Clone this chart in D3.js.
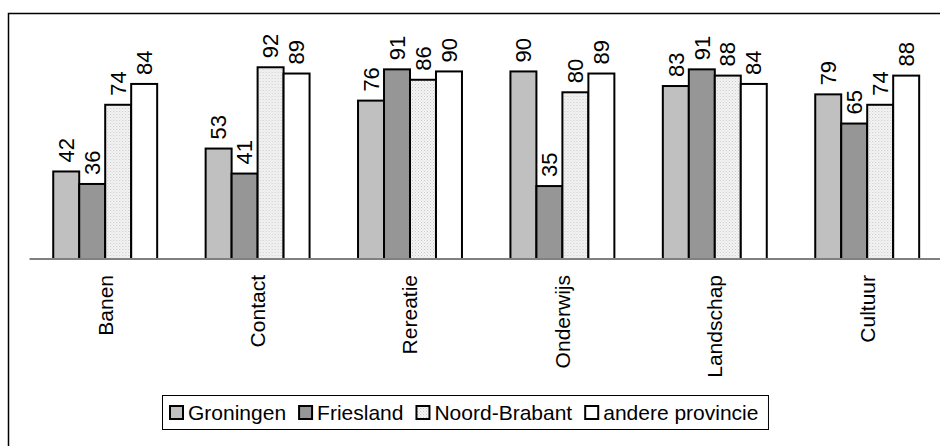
<!DOCTYPE html>
<html lang="nl">
<head>
<meta charset="UTF-8">
<title>Grouped bars</title>
<script src="https://d3js.org/d3.v7.min.js"></script>
<style>
  html, body { margin: 0; padding: 0; background: #fff; overflow: hidden; }
  svg { display: block; font-family: "Liberation Sans", Arial, sans-serif; }
</style>
</head>
<body>
<svg id="chart" width="940" height="446"></svg>
<script>
// data
const categories = ["Banen", "Contact", "Rereatie", "Onderwijs", "Landschap", "Cultuur"];
const seriesNames = ["Groningen", "Friesland", "Noord-Brabant", "andere provincie"];
const groningen = [42, 53, 76, 90, 83, 79];
const friesland = [36, 41, 91, 35, 91, 65];
const noordBrabant = [74, 92, 86, 80, 88, 74];
const andere = [84, 89, 90, 89, 84, 88];

const seriesValues = [groningen, friesland, noordBrabant, andere];
const fills = ["#c0c0c0", "#969696", "url(#dots)", "#ffffff"];

const svg = d3.select("#chart");

// fijn stippelpatroon voor Noord-Brabant
const defs = svg.append("defs");
const pat = defs.append("pattern")
    .attr("id", "dots")
    .attr("width", 3).attr("height", 3)
    .attr("patternUnits", "userSpaceOnUse");
pat.append("rect").attr("width", 3).attr("height", 3).attr("fill", "#f4f4f4");
pat.append("rect").attr("x", 0).attr("y", 0).attr("width", 1).attr("height", 1).attr("fill", "#c8c8c8");
pat.append("rect").attr("x", 1.5).attr("y", 1.5).attr("width", 1).attr("height", 1).attr("fill", "#d4d4d4");

// kader rond de grafiek (loopt door buiten beeld)
svg.append("rect")
    .attr("x", 8.5).attr("y", 13.5)
    .attr("width", 1000).attr("height", 500)
    .attr("fill", "none")
    .attr("stroke", "#000")
    .attr("stroke-width", 1.5);

const x0 = d3.scaleBand()
    .domain(categories)
    .range([29, 943.4])
    .paddingInner(0.318)
    .paddingOuter(0.159);

const x1 = d3.scaleBand()
    .domain(seriesNames)
    .range([0, x0.bandwidth()]);

const y = d3.scaleLinear()
    .domain([0, 100])
    .range([259, 50.6]);

const rows = categories.map((c, i) => ({
    cat: c,
    vals: seriesNames.map((s, j) => ({ s, j, v: seriesValues[j][i] }))
}));

const groups = svg.append("g").selectAll("g")
    .data(rows)
    .enter()
    .append("g")
    .attr("transform", d => `translate(${x0(d.cat)},0)`);

// staven
groups.selectAll("rect")
    .data(d => d.vals)
    .enter()
    .append("rect")
    .attr("x", d => x1(d.s))
    .attr("y", d => y(d.v))
    .attr("width", x1.bandwidth())
    .attr("height", d => y(0) - y(d.v))
    .attr("fill", d => fills[d.j])
    .attr("stroke", "#000")
    .attr("stroke-width", 2);

// waarden boven de staven (gedraaid)
groups.selectAll("text.val")
    .data(d => d.vals)
    .enter()
    .append("text")
    .attr("class", "val")
    .attr("transform", d => `translate(${x1(d.s) + x1.bandwidth() / 2},${y(d.v) - 9}) rotate(-90)`)
    .attr("dy", "0.35em")
    .attr("text-anchor", "start")
    .style("font-size", "22px")
    .style("fill", "#000")
    .text(d => d.v);

// x-as
const xAxis = svg.append("g")
    .attr("transform", "translate(0,258.5)")
    .call(d3.axisBottom(x0).tickSize(0).tickFormat(""));
xAxis.select(".domain").attr("stroke", "#808080").attr("stroke-width", 2);

// categorie labels
svg.append("g").selectAll("text")
    .data(categories)
    .enter()
    .append("text")
    .attr("transform", d => `translate(${x0(d) + x0.bandwidth() / 2},275) rotate(-90)`)
    .attr("dy", "0.35em")
    .attr("text-anchor", "end")
    .style("font-size", "21px")
    .style("fill", "#000")
    .text(d => d);

// legenda
const legend = svg.append("g");
const box = legend.append("rect")
    .attr("x", 162.5).attr("y", 395.5)
    .attr("height", 34)
    .attr("fill", "#fff")
    .attr("stroke", "#000")
    .attr("stroke-width", 1);

let lx = 170;
seriesNames.forEach((s, j) => {
    legend.append("rect")
        .attr("x", lx).attr("y", 406)
        .attr("width", 13).attr("height", 13)
        .attr("fill", fills[j])
        .attr("stroke", "#000")
        .attr("stroke-width", 2);
    const t = legend.append("text")
        .attr("x", lx + 18)
        .attr("y", 412.5)
        .attr("dy", "0.35em")
        .style("font-size", "21px")
        .style("fill", "#000")
        .text(s);
    lx = lx + 18 + t.node().getComputedTextLength() + 13;
});
box.attr("width", lx - 13 + 10 - 162.5);
</script>
</body>
</html>
